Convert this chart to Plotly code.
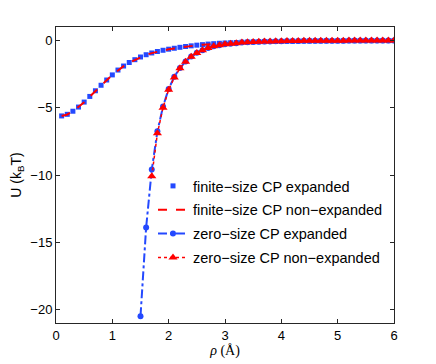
import plotly.graph_objects as go

# finite-size CP, rho = 0.1 ... 6.0
rho_finite = [round(0.1 * i, 1) for i in range(1, 61)]
u_finite_exp = [-5.61, -5.49, -5.26, -4.95, -4.58, -4.16, -3.74, -3.33, -2.94, -2.56,
                -2.2, -1.9, -1.64, -1.43, -1.23, -1.06, -0.93, -0.82, -0.73, -0.65,
                -0.58, -0.51, -0.45, -0.4, -0.35, -0.31, -0.27, -0.24, -0.21, -0.19,
                -0.17, -0.15, -0.13, -0.12, -0.11, -0.1, -0.09, -0.08, -0.075, -0.07,
                -0.065, -0.06, -0.055, -0.05, -0.047, -0.044, -0.041, -0.038, -0.035, -0.033,
                -0.031, -0.029, -0.027, -0.025, -0.023, -0.022, -0.021, -0.02, -0.019, -0.018]
u_finite_nonexp = [-5.62, -5.5, -5.27, -4.96, -4.59, -4.17, -3.75, -3.34, -2.95, -2.57,
                   -2.21, -1.91, -1.65, -1.44, -1.24, -1.07, -0.94, -0.83, -0.74, -0.66,
                   -0.59, -0.52, -0.46, -0.41, -0.36, -0.32, -0.28, -0.25, -0.22, -0.2,
                   -0.18, -0.16, -0.14, -0.13, -0.12, -0.11, -0.1, -0.09, -0.08, -0.075,
                   -0.07, -0.065, -0.06, -0.055, -0.05, -0.047, -0.044, -0.041, -0.038, -0.035,
                   -0.033, -0.031, -0.029, -0.027, -0.025, -0.023, -0.022, -0.021, -0.02, -0.019]

# zero-size CP, expanded: rho = 1.5 ... 6.0
rho_zero_exp = [round(0.1 * i, 1) for i in range(15, 61)]
u_zero_exp = [-20.5, -13.9, -9.6, -6.75, -4.9, -3.6, -2.7, -2.05, -1.57, -1.2,
              -0.92, -0.72, -0.56, -0.44, -0.36, -0.29, -0.24, -0.2, -0.16, -0.13,
              -0.11, -0.09, -0.08, -0.07, -0.06, -0.05, -0.045, -0.04, -0.035, -0.03,
              -0.027, -0.024, -0.021, -0.019, -0.017, -0.015, -0.013, -0.012, -0.011, -0.01,
              -0.009, -0.008, -0.007, -0.006, -0.005, -0.005]

# zero-size CP, non-expanded: rho = 1.7 ... 6.0
rho_zero_nonexp = [round(0.1 * i, 1) for i in range(17, 61)]
u_zero_nonexp = [-10.1, -6.9, -5.0, -3.66, -2.76, -2.07, -1.59, -1.22, -0.93, -0.73,
                 -0.56, -0.44, -0.36, -0.29, -0.24, -0.2, -0.16, -0.13, -0.11, -0.09,
                 -0.08, -0.07, -0.06, -0.05, -0.045, -0.04, -0.035, -0.03, -0.027, -0.024,
                 -0.021, -0.019, -0.017, -0.015, -0.013, -0.012, -0.011, -0.01, -0.009, -0.008,
                 -0.007, -0.006, -0.005, -0.005]

blue = "#2449ff"
red = "#ff0000"
font = "Liberation Sans, Arial, sans-serif"

fig = go.Figure()
fig.add_trace(go.Scatter(x=rho_finite, y=u_finite_exp, mode="markers",
                         marker=dict(symbol="square", size=5, color=blue),
                         name="finite−size CP expanded", legendgroup="a"))
fig.add_trace(go.Scatter(x=rho_finite, y=u_finite_nonexp, mode="lines",
                         line=dict(color=red, width=2, dash="dash"),
                         name="finite−size CP non−expanded", legendgroup="b"))
fig.add_trace(go.Scatter(x=rho_zero_exp, y=u_zero_exp, mode="lines+markers",
                         line=dict(color=blue, width=2, dash="dashdot"),
                         marker=dict(symbol="circle", size=6, color=blue),
                         name="zero−size CP expanded", legendgroup="c"))
fig.add_trace(go.Scatter(x=rho_zero_nonexp, y=u_zero_nonexp, mode="lines+markers",
                         line=dict(color=red, width=1.5, dash="dot"),
                         marker=dict(symbol="triangle-up", size=8, color=red),
                         name="zero−size CP non−expanded", legendgroup="d"))

axis_style = dict(showline=True, linecolor="#262626", linewidth=1, mirror="ticks",
                  ticks="inside", ticklen=4, tickcolor="#262626", showgrid=False,
                  zeroline=False, automargin=False,
                  tickfont=dict(family=font, size=13, color="black"))

# page body has an 8px margin, so the figure is 8px smaller on each axis
fig.update_layout(
    width=428, height=356,
    margin=dict(l=48, r=42, t=19, b=41),
    plot_bgcolor="white", paper_bgcolor="white",
    showlegend=True,
    legend=dict(x=0.287, y=0.517, xanchor="left", yanchor="top",
                bgcolor="rgba(0,0,0,0)", borderwidth=0,
                font=dict(family=font, size=14.5, color="black"),
                traceorder="grouped", tracegroupgap=2),
)
fig.update_xaxes(range=[0, 6], tickvals=[0, 1, 2, 3, 4, 5, 6],
                 title=dict(text="<i>ρ</i> (Å)", standoff=2,
                            font=dict(family="Liberation Serif, serif", size=14, color="black")),
                 **axis_style)
fig.update_yaxes(range=[-21, 1], tickvals=[0, -5, -10, -15, -20],
                 title=dict(text="U (k<sub>B</sub>T)", standoff=6,
                            font=dict(family=font, size=14, color="black")),
                 **axis_style)

fig.write_html("out.html")
